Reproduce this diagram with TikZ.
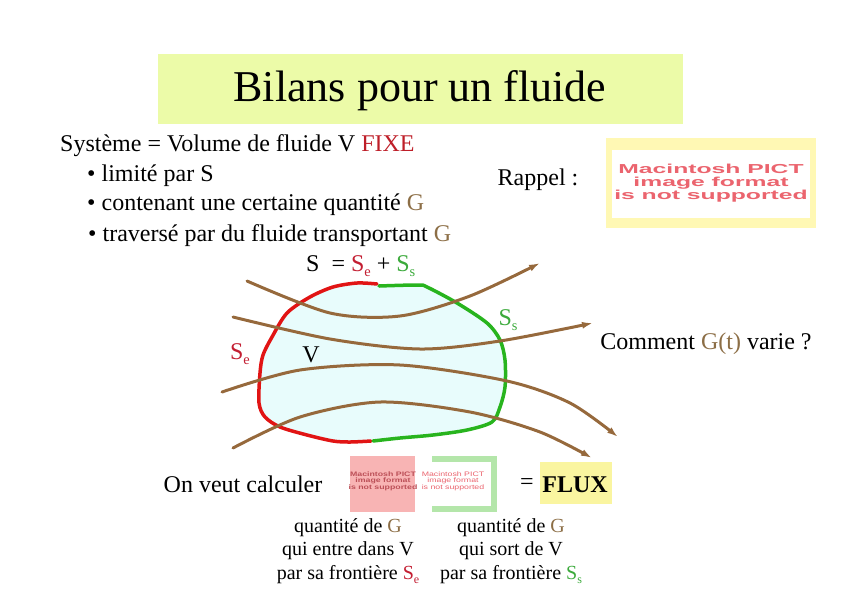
\documentclass[tikz,border=0pt]{standalone}
\usepackage{graphicx}
\usepackage{fontspec}
\setmainfont{Liberation Serif}
\newfontfamily\pictfont{Liberation Sans}
\usetikzlibrary{arrows.meta}
\definecolor{titlebg}{RGB}{236,251,168}
\definecolor{fixered}{RGB}{190,30,40}
\definecolor{qtybrown}{RGB}{140,110,70}
\definecolor{sered}{RGB}{195,30,50}
\definecolor{ssgreen}{RGB}{60,170,60}
\definecolor{blobfill}{RGB}{232,252,252}
\definecolor{edgered}{RGB}{225,20,20}
\definecolor{edgegreen}{RGB}{40,180,30}
\definecolor{flowbrown}{RGB}{150,105,60}
\definecolor{pictyellow}{RGB}{255,248,180}
\definecolor{pictred}{RGB}{235,100,110}
\definecolor{pictpink}{RGB}{248,180,180}
\definecolor{pictgreen}{RGB}{180,230,170}
\definecolor{fluxyellow}{RGB}{250,245,160}
\newcommand{\subidx}[1]{\raisebox{-0.45ex}{\scalebox{0.6}{#1}}}
\newcommand{\Gq}{\textcolor{qtybrown}{G}}
\newcommand{\Sin}{\textcolor{sered}{S\subidx{e}}}
\newcommand{\Sout}{\textcolor{ssgreen}{S\subidx{s}}}
\begin{document}
\begin{tikzpicture}[x=1pt, y=-1pt,
  body/.style={font=\fontsize{24}{29}\selectfont, inner sep=0pt},
  small/.style={font=\fontsize{20}{23.5}\selectfont, inner sep=0pt, align=center},
  flow/.style={draw=flowbrown, line width=3pt, line cap=round, -{Latex[length=11pt,width=7pt]}},
  edge/.style={line width=3.5pt, line cap=round, line join=round},
  pict/.style={text=pictred, font=\pictfont\bfseries, align=center, inner sep=0pt}]
\useasboundingbox (0,0) rectangle (842,595);
% title
\fill[titlebg] (158,54) rectangle (683,124);
\node[font=\fontsize{44}{50}\selectfont] (title) at (420,91) {Bilans pour un fluide};
% the system
\node[body, anchor=west] (sys) at (60,146) {Système = Volume de fluide V \textcolor{fixered}{FIXE}};
\node[body, anchor=west] (b1) at (87,176) {• limité par S};
\node[body, anchor=west] (b2) at (87,205) {• contenant une certaine quantité \Gq};
\node[body, anchor=west] (b3) at (88,236) {• traversé par du fluide transportant \Gq};
\node[body, anchor=west] (sum) at (306,266) {S\ \ = \Sin{} + \Sout};
% reminder
\node[body] (rappel) at (538,180) {Rappel :};
\fill[pictyellow] (606,138) rectangle (816,228);
\fill[white] (612,150) rectangle (810,218);
\node[pict, font=\pictfont\bfseries\fontsize{13}{13}\selectfont] (pictA) at (711,183)
  {\scalebox{1.9}[1]{Macintosh PICT}\\\scalebox{1.9}[1]{image format}\\\scalebox{1.9}[1]{is not supported}};
% volume V
\fill[blobfill] plot[smooth cycle, tension=0.5] coordinates {(377,284) (357,283) (333,287) (310,297) (287,313) (272,337) (263,355) (260,373) (259,403) (265,417) (280,427) (307,435) (333,441) (350,442) (372,441)
  (400,438) (433,435) (467,430) (492,422) (500,407) (505,387) (505,360) (500,340) (487,323) (457,303) (427,287) (418,285)};
\draw[edge, edgered] plot[smooth, tension=0.5] coordinates {(377,284) (357,283) (333,287) (310,297) (287,313) (272,337) (263,355) (260,373) (259,403) (265,417) (280,427) (307,435) (333,441) (350,442) (371,441)};
\draw[edge, edgegreen] plot[smooth, tension=0.5] coordinates {(373,441) (400,438) (433,435) (467,430) (492,422) (500,407) (505,387) (505,360) (500,340) (487,323) (457,303) (427,287) (418,285) (379,286)};
% streamlines
\draw[flow] plot[smooth] coordinates {(247,281) (330,313) (400,316) (470,296) (540,263)};
\draw[flow] plot[smooth] coordinates {(233,317) (330,339) (420,349) (500,341) (593,323)};
\draw[flow] plot[smooth] coordinates {(222,392) (300,370) (400,365) (507,381) (570,403) (618,437)};
\draw[flow] plot[smooth] coordinates {(233,448) (300,417) (380,402) (470,412) (540,432) (592,458)};
\node[body, text=sered] (se) at (240,354) {S\subidx{e}};
\node[body] (vol) at (311,355) {V};
\node[body, text=ssgreen] (ss) at (508,320) {S\subidx{s}};
\node[body] (question) at (706,344) {Comment \textcolor{qtybrown}{G(t)} varie ?};
% what we compute
\node[body] (calc) at (243,484) {On veut calculer};
\fill[pictpink] (350,456) rectangle (415,512);
\fill[pictgreen] (432,456) rectangle (497,512);
\fill[white] (415,462) rectangle (491,506);
\node[pict, font=\pictfont\bfseries\fontsize{6.5}{6.5}\selectfont, text=pictred!80!black] (pictB) at (383,481)
  {\scalebox{1.35}[1]{Macintosh PICT}\\\scalebox{1.35}[1]{image format}\\\scalebox{1.35}[1]{is not supported}};
\node[pict, font=\pictfont\fontsize{6.5}{6.5}\selectfont] (pictC) at (453,481)
  {\scalebox{1.35}[1]{Macintosh PICT}\\\scalebox{1.35}[1]{image format}\\\scalebox{1.35}[1]{is not supported}};
\fill[fluxyellow] (540,462) rectangle (612,504);
\node[body] (eq) at (527,484) {=};
\node[body] (flux) at (575,485) {\textbf{FLUX}};
\node[small] (qin) at (348,551) {quantité de \Gq\\qui entre dans V\\par sa frontière \Sin};
\node[small] (qout) at (511,551) {quantité de \Gq\\qui sort de V\\par sa frontière \Sout};
\end{tikzpicture}
\end{document}
